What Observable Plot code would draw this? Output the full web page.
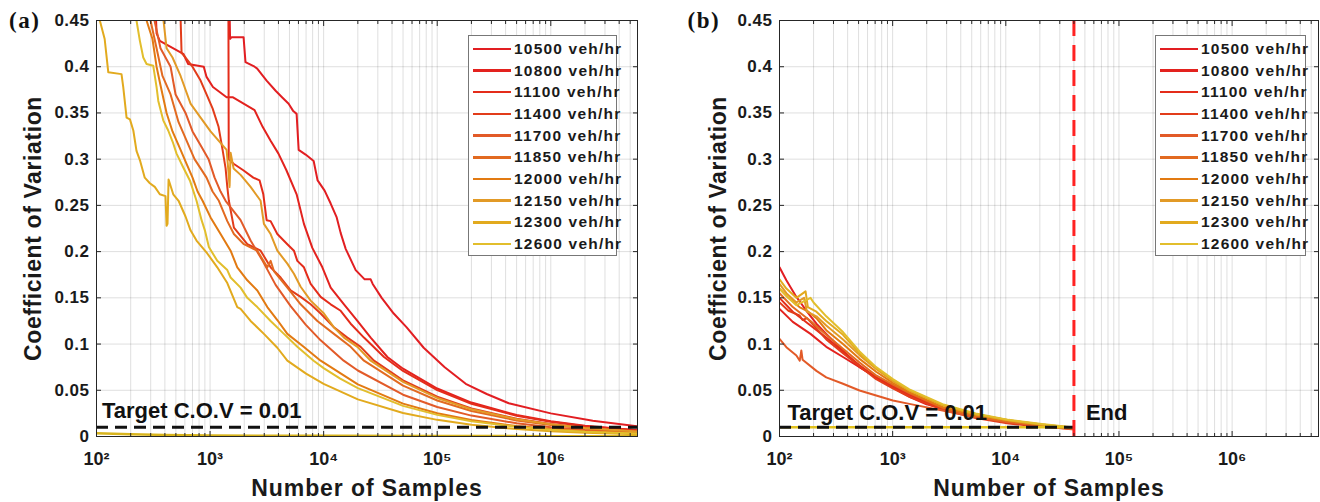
<!DOCTYPE html>
<html><head><meta charset="utf-8">
<script src="https://cdn.jsdelivr.net/npm/d3@7"></script>
<script src="https://cdn.jsdelivr.net/npm/@observablehq/plot@0.6"></script>
<style>
body{margin:0;background:#fff;}
#wrap{position:relative;width:1320px;height:502px;display:flex;}
.panel{position:relative;width:660px;height:502px;}
.panel svg{overflow:visible;}
.legend{position:absolute;top:35px;height:221px;border:1px solid #777;background:#fff;box-sizing:border-box;padding-top:2px;
  font:bold 15.5px "Liberation Sans",Arial,sans-serif;letter-spacing:1.2px;color:#1a1a1a;}
.item{display:flex;align-items:center;height:21.7px;white-space:nowrap;}
.sw{width:38px;height:2.5px;margin:0 3px 0 4px;flex:none;}
g[aria-label="y-axis tick label"] text{letter-spacing:.5px;}
</style></head><body>
<div id="wrap"><div class="panel" id="pa"></div><div class="panel" id="pb"></div></div>
<script>
// ---- data ----
const flows = ["10500 veh/hr","10800 veh/hr","11100 veh/hr","11400 veh/hr","11700 veh/hr","11850 veh/hr","12000 veh/hr","12150 veh/hr","12300 veh/hr","12600 veh/hr"];
const colors = ["#e21e22","#e3221e","#e42c1a","#e23c1a","#e25a28","#e26a20","#e27a12","#e29a26","#e2aa1e","#e2be2c"];
const yTicks = [0,0.05,0.1,0.15,0.2,0.25,0.3,0.35,0.4,0.45];
const xMajor = [1e2,1e3,1e4,1e5,1e6];
const xMinorMult = [2,3,4,5,6,7,8,9];
const xMin = 100, xMax = 5.8e6;
const targetCOV = 0.01;
const endSamples = 4e4;

// panel (a): [samples, C.O.V]
const a10500 = [[1480,.47],[1500,.43],[1546,.432],[1972,.432],[2050,.405],[2466,.40],[2600,.398],[3146,.385],[3777,.374],[4300,.367],[4918,.36],[5400,.352],[5780,.349],[6026,.31],[6937,.305],[8166,.298],[8850,.277],[10200,.266],[11530,.252],[13030,.237],[14130,.22],[15630,.203],[19150,.18],[22970,.17],[25940,.17],[27030,.165],[32430,.15],[41400,.133],[53840,.118],[76000,.096],[116400,.075],[178200,.057],[272800,.046],[426600,.036],[1e6,.025],[2.344e6,.017],[5.8e6,.011]];
const a10800 = [[330,.47],[338,.436],[361,.428],[581,.414],[640,.403],[880,.40],[931,.389],[1060,.378],[1398,.367],[1579,.367],[2466,.353],[2902,.335],[3412,.32],[4000,.306],[4700,.288],[5782,.262],[6705,.23],[7950,.204],[9740,.183],[11530,.161],[15100,.143],[19820,.125],[25950,.107],[36410,.086],[50000,.0733],[1e5,.0519],[2e5,.0367],[5e5,.0232],[1e6,.0164],[2e6,.0116],[5.8e6,.0068]];
const a11100 = [[1450,.47],[1460,.30],[1611,.295],[1961,.288],[2402,.28],[2730,.277],[2943,.262],[3147,.234],[3412,.233],[3909,.219],[4789,.208],[5476,.201],[5865,.19],[6705,.183],[7685,.165],[9410,.151],[11530,.143],[14120,.136],[17300,.122],[22650,.107],[33990,.086],[50000,.0709],[1e5,.0501],[2e5,.0354],[5e5,.0224],[1e6,.0159],[2e6,.0112],[5.8e6,.0066]];
const a11400 = [[545,.47],[561,.415],[608,.41],[700,.40],[825,.385],[931,.37],[1052,.355],[1188,.335],[1289,.31],[1370,.29],[1418,.27],[1464,.255],[1621,.226],[2127,.208],[2786,.201],[3412,.183],[4180,.172],[5120,.158],[6272,.151],[7685,.143],[9410,.133],[12320,.118],[16180,.107],[21180,.097],[27750,.082],[50000,.0608],[1e5,.043],[2e5,.0304],[5e5,.0192],[1e6,.0136],[2e6,.0096],[5.8e6,.0056]];
const a11700 = [[318,.46],[324,.45],[366,.42],[449,.40],[497,.37],[608,.35],[701,.33],[825,.315],[970,.30],[1096,.28],[1237,.265],[1370,.255],[1857,.234],[2274,.212],[2902,.19],[3776,.164],[5120,.141],[6940,.121],[9410,.104],[15010,.082],[20000,.0714],[50000,.0452],[1e5,.0319],[2e5,.0226],[5e5,.0143],[1e6,.0101],[2e6,.0071],[5.8e6,.0042]];
const a11850 = [[295,.46],[299,.45],[338,.42],[381,.39],[449,.37],[528,.34],[621,.32],[730,.30],[825,.29],[931,.28],[1052,.265],[1195,.255],[1418,.233],[1621,.219],[1985,.208],[2606,.201],[3192,.183],[3412,.19],[3648,.179],[4789,.161],[6272,.143],[8800,.125],[12320,.111],[17300,.097],[22650,.082],[50000,.055],[1e5,.0389],[2e5,.0275],[5e5,.0174],[1e6,.0123],[2e6,.0087],[5.8e6,.0051]];
const a12000 = [[270,.46],[276,.45],[311,.43],[338,.40],[366,.38],[414,.35],[467,.33],[550,.31],[621,.295],[701,.28],[776,.265],[859,.255],[1010,.237],[1237,.219],[1516,.201],[1736,.183],[2127,.169],[2606,.158],[3192,.14],[3909,.126],[4789,.111],[6665,.097],[9410,.082],[20000,.0563],[50000,.0356],[1e5,.0252],[2e5,.0178],[5e5,.0113],[1e6,.008],[2e6,.0056],[5.8e6,.0033]];
const a12150 = [[385,.46],[389,.45],[414,.42],[467,.41],[550,.39],[673,.36],[825,.345],[1010,.33],[1188,.32],[1398,.31],[1455,.285],[1485,.27],[1516,.307],[1611,.29],[1857,.283],[2274,.27],[2786,.255],[2979,.23],[3412,.219],[3909,.201],[4789,.187],[5476,.176],[6272,.162],[7685,.147],[10060,.133],[12320,.118],[15100,.107],[19820,.097],[25950,.082],[50000,.059],[1e5,.0417],[2e5,.0295],[5e5,.0187],[1e6,.0132],[2e6,.0093],[5.8e6,.0055]];
const a12300 = [[100,.47],[107,.45],[118,.43],[127,.394],[166,.392],[172,.378],[184,.345],[197,.343],[211,.331],[225,.309],[241,.299],[266,.28],[295,.274],[326,.27],[361,.262],[405,.26],[414,.228],[422,.23],[431,.278],[474,.262],[528,.255],[608,.238],[673,.223],[760,.212],[945,.198],[1157,.183],[1418,.166],[1736,.14],[1857,.138],[2274,.125],[2979,.111],[3909,.096],[4789,.082],[7000,.068],[10000,.057],[20000,.0402],[50000,.0254],[1e5,.018],[2e5,.0127],[5e5,.00805],[1e6,.0057],[2e6,.004],[5.8e6,.0024]];
const a12600 = [[222,.46],[225,.45],[241,.428],[258,.41],[276,.403],[316,.401],[338,.378],[350,.363],[387,.342],[428,.331],[474,.317],[507,.306],[581,.291],[664,.277],[760,.255],[842,.234],[900,.223],[976,.205],[1157,.19],[1418,.18],[1516,.172],[1857,.161],[2127,.15],[2606,.14],[3412,.125],[4469,.111],[5865,.097],[8163,.082],[10000,.074],[14000,.0626],[20000,.0524],[50000,.0331],[1e5,.0234],[2e5,.0166],[5e5,.0105],[1e6,.0074],[2e6,.0052],[5.8e6,.0031]];
const aFloor = [[100,.0036],[200,.0025],[400,.0017],[1000,.0011],[1e4,.0007],[1e5,.0005],[1e6,.0004],[5.8e6,.0004]];

// panel (b)
const b10500 = [[100,.183],[115,.169],[141,.151],[173,.136],[212,.122],[259,.111],[364,.093],[510,.075],[715,.064],[1004,.053],[1405,.043],[1970,.035],[2760,.030],[5420,.021],[10600,.0155],[20800,.012],[40000,.0095]];
const b10800 = [[100,.138],[131,.124],[188,.111],[259,.097],[364,.086],[510,.075],[715,.064],[1004,.055],[1405,.046],[2760,.031],[5420,.022],[10600,.016],[20800,.0115],[40000,.0085]];
const b11100 = [[100,.150],[131,.135],[188,.12],[259,.107],[364,.092],[510,.077],[715,.064],[1004,.054],[1405,.045],[1970,.037],[2760,.030],[5420,.021],[10600,.015],[20800,.011],[40000,.0085]];
const b11400 = [[100,.145],[120,.136],[150,.131],[160,.126],[175,.128],[212,.117],[259,.105],[364,.09],[510,.076],[715,.062],[1004,.052],[1405,.043],[2760,.029],[5420,.020],[10600,.014],[20800,.0105],[40000,.008]];
const b11700 = [[100,.1057],[115,.0966],[141,.0876],[151,.082],[156,.093],[160,.083],[212,.071],[259,.064],[364,.057],[510,.0498],[715,.0443],[1004,.0389],[1405,.0353],[2760,.0281],[5420,.0209],[10600,.0155],[20800,.011],[40000,.0075]];
const b11850 = [[100,.155],[131,.14],[188,.125],[259,.11],[364,.095],[510,.08],[715,.066],[1004,.056],[1405,.047],[2760,.031],[5420,.022],[10600,.016],[20800,.012],[40000,.0088]];
const b12000 = [[100,.16],[120,.15],[150,.14],[180,.135],[212,.128],[259,.115],[364,.1],[510,.084],[715,.07],[1004,.058],[1405,.048],[2760,.032],[5420,.023],[10600,.017],[20800,.0125],[40000,.0092]];
const b12150 = [[100,.165],[115,.155],[141,.145],[165,.15],[175,.135],[212,.13],[259,.12],[364,.105],[510,.088],[715,.073],[1004,.06],[1405,.05],[2760,.034],[5420,.024],[10600,.0175],[20800,.013],[40000,.0095]];
const b12300 = [[100,.17],[115,.16],[141,.15],[170,.157],[178,.14],[212,.135],[259,.125],[364,.11],[510,.09],[715,.074],[1004,.061],[1405,.05],[2760,.034],[5420,.024],[10600,.0175],[20800,.013],[40000,.0095]];
const b12600 = [[100,.16],[115,.152],[141,.142],[188,.15],[200,.145],[259,.13],[364,.113],[510,.092],[715,.075],[1004,.062],[1405,.051],[2760,.035],[5420,.025],[10600,.018],[20800,.0135],[40000,.0098]];

const seriesA = [a10500,a10800,a11100,a11400,a11700,a11850,a12000,a12150,a12300,a12600];
const seriesB = [b10500,b10800,b11100,b11400,b11700,b11850,b12000,b12150,b12300,b12600];

// ---- helpers ----
const xMinor = xMajor.flatMap(p => xMinorMult.map(m => m * p)).filter(v => v <= xMax);
const sup = {"2":"²","3":"³","4":"⁴","5":"⁵","6":"⁶"};
const fmtX = v => "10" + sup[String(Math.round(Math.log10(v)))];
const fmtY = v => String(+v.toFixed(2));
const FONT = "Liberation Sans, Arial, Helvetica, sans-serif";
const frameCol = "#262626";

function makePanel(el, letter, series, mLeft, mRight, isB) {
  const marks = [
    Plot.gridX({ticks: xMajor.concat(xMinor), stroke: "#000", strokeOpacity: 0.13}),
    Plot.gridY({ticks: yTicks, stroke: "#000", strokeOpacity: 0.13})
  ];
  if (!isB) marks.push(Plot.line(aFloor, {x: d => d[0], y: d => d[1], stroke: "#d8b41c", strokeWidth: 2.5, clip: true}));
  series.forEach((s, i) => marks.push(Plot.line(s, {x: d => d[0], y: d => d[1], stroke: colors[i], strokeWidth: 2, clip: true})));
  if (isB) {
    marks.push(Plot.ruleY([targetCOV], {x1: xMin, x2: endSamples, stroke: "#e2c21e", strokeWidth: 2.5}));
    marks.push(Plot.ruleY([targetCOV], {x1: xMin, x2: endSamples, stroke: "#111", strokeWidth: 3, strokeDasharray: "12,7"}));
    marks.push(Plot.ruleX([endSamples], {stroke: "#ff2222", strokeWidth: 3, strokeDasharray: "16,9"}));
    marks.push(Plot.text(["End"], {x: endSamples, y: targetCOV, dx: 12, dy: -7, textAnchor: "start", lineAnchor: "bottom", fontSize: 22, fontWeight: "bold", fill: "#111"}));
  } else {
    marks.push(Plot.ruleY([targetCOV], {stroke: "#111", strokeWidth: 3, strokeDasharray: "12,7"}));
  }
  marks.push(Plot.text(["Target C.O.V = 0.01"], {x: xMin, y: targetCOV, dx: isB ? 8 : 5.5, dy: isB ? -7 : -9, textAnchor: "start", lineAnchor: "bottom", fontSize: 22, fontWeight: "bold", fill: "#111"}));
  // frame + axes
  marks.push(Plot.frame({stroke: frameCol, strokeWidth: 1}));
  marks.push(Plot.axisY(yTicks, {anchor: "left", tickSize: 0, tickPadding: 7, tickFormat: fmtY, fontSize: 17, fontWeight: "bold", label: null}));
  marks.push(Plot.axisY(yTicks, {anchor: "left", tickSize: -5, tickFormat: () => "", stroke: frameCol, label: null}));
  marks.push(Plot.axisY(yTicks, {anchor: "right", tickSize: -5, tickFormat: () => "", stroke: frameCol, label: null}));
  marks.push(Plot.axisX(xMajor, {anchor: "bottom", tickSize: 0, tickPadding: 16, tickFormat: fmtX, fontSize: 18, fontWeight: "bold", label: null}));
  for (const anc of ["bottom", "top"]) {
    marks.push(Plot.axisX(xMajor, {anchor: anc, tickSize: -5, tickFormat: () => "", stroke: frameCol, label: null}));
    marks.push(Plot.axisX(xMinor, {anchor: anc, tickSize: -3, tickFormat: () => "", stroke: frameCol, label: null}));
  }
  // titles
  marks.push(Plot.text(["Coefficient of Variation"], {frameAnchor: "left", textAnchor: "middle", lineAnchor: "middle", rotate: -90, dx: isB ? -61 : -63, fontSize: 23, fontWeight: "bold", fill: "#1a1a1a"}));
  marks.push(Plot.text(["Number of Samples"], {frameAnchor: "bottom", textAnchor: "middle", lineAnchor: "middle", dy: 52, fontSize: 23, fontWeight: "bold", fill: "#1a1a1a"}));
  marks.push(Plot.text([letter], {frameAnchor: "top-left", dx: isB ? (687 - 660 - mLeft) : (8.5 - mLeft), textAnchor: "start", lineAnchor: "middle", fontSize: 23, fontWeight: "bold", fontFamily: "Liberation Serif, Times New Roman, serif", fill: "#111"}));

  const svg = Plot.plot({
    width: 660, height: 502,
    marginLeft: mLeft, marginRight: mRight, marginTop: 20, marginBottom: 66,
    x: {type: "log", domain: [xMin, xMax]},
    y: {domain: [0, 0.45]},
    style: {fontFamily: FONT, color: "#1a1a1a", background: "transparent", overflow: "visible"},
    marks
  });
  d3.select(svg).selectAll("text").each(function() {
    const t = this.textContent;
    if (t === "Coefficient of Variation") d3.select(this).style("letter-spacing", "0.6px");
    if (t === "Number of Samples") d3.select(this).style("letter-spacing", "0.9px");
    if (t === "(a)" || t === "(b)") d3.select(this).style("letter-spacing", "1.5px");
  });
  el.appendChild(svg);

  // legend
  const lg = document.createElement("div");
  lg.className = "legend";
  lg.style.left = (isB ? 495 : 468) + "px";
  lg.style.width = (isB ? 151 : 149) + "px";
  flows.forEach((f, i) => {
    const it = document.createElement("div");
    it.className = "item";
    const sw = document.createElement("span");
    sw.className = "sw"; sw.style.background = colors[i];
    const tx = document.createElement("span");
    tx.textContent = f;
    it.appendChild(sw); it.appendChild(tx);
    lg.appendChild(it);
  });
  el.appendChild(lg);
}

makePanel(document.getElementById("pa"), "(a)", seriesA, 96, 23, false);
makePanel(document.getElementById("pb"), "(b)", seriesB, 119, 2, true);
</script></body></html>
